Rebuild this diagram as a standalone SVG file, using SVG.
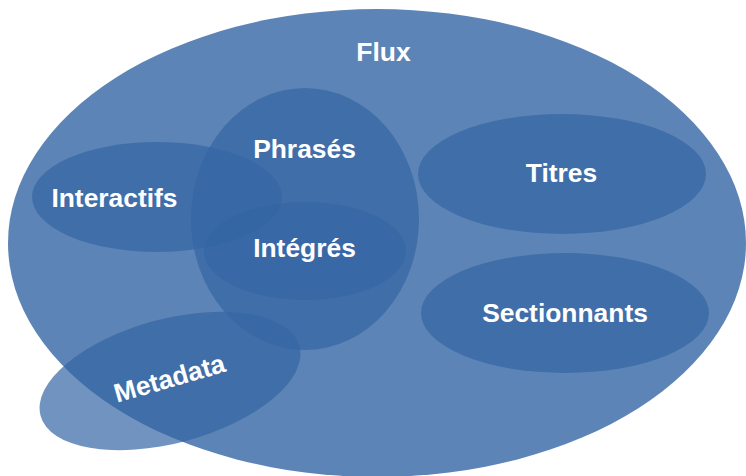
<svg xmlns="http://www.w3.org/2000/svg" width="746" height="476" viewBox="0 0 746 476">
<style>
.set{fill:#3465a4;fill-opacity:0.7}
.outer{fill:#3465a4;fill-opacity:0.8}
.lbl{font-family:"Liberation Sans",Arial,sans-serif;font-weight:bold;font-size:26.4px;fill:#ffffff;text-anchor:middle}
</style>
<rect width="746" height="476" fill="#ffffff"/>
<g id="flux"><ellipse class="outer" cx="377" cy="243" rx="369" ry="234"/><text class="lbl" x="383.5" y="61">Flux</text></g>
<g id="interactifs"><ellipse class="set" cx="157" cy="197" rx="125" ry="55"/></g>
<g id="phrases"><ellipse class="set" cx="305" cy="219" rx="114" ry="131"/></g>
<g id="integres"><ellipse class="set" cx="305" cy="251" rx="101" ry="49"/></g>
<g id="titres"><ellipse class="set" cx="562" cy="174" rx="144" ry="60"/><text class="lbl" x="561.5" y="182">Titres</text></g>
<g id="sectionnants"><ellipse class="set" cx="565" cy="313" rx="144" ry="60"/><text class="lbl" x="565" y="322">Sectionnants</text></g>
<g id="metadata"><ellipse class="set" cx="170" cy="381" rx="134" ry="62" transform="rotate(-15 170 381)"/><text class="lbl" x="172" y="387" transform="rotate(-16 172 387)">Metadata</text></g>
<g id="labels">
<text class="lbl" x="114.5" y="207">Interactifs</text>
<text class="lbl" x="304.5" y="158">Phrasés</text>
<text class="lbl" x="304.5" y="257">Intégrés</text>
</g>
<g id="connectors"/>
</svg>
